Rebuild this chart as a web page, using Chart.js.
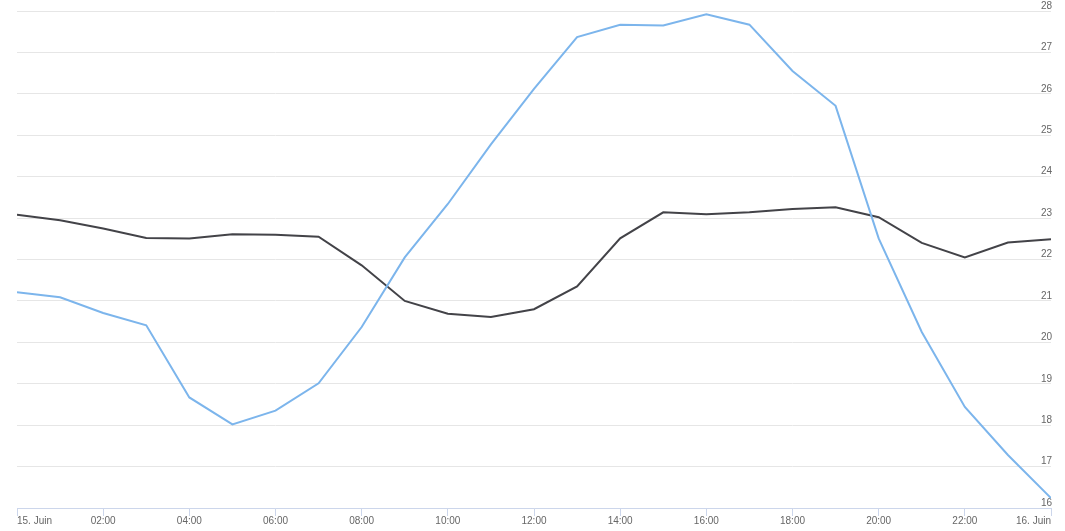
<!DOCTYPE html>
<html>
<head>
<meta charset="utf-8">
<script src="https://cdn.jsdelivr.net/npm/chart.js@4/dist/chart.umd.min.js"></script>
<style>
  html, body { margin: 0; padding: 0; background: #ffffff; }
  #wrap { width: 1065px; height: 531px; position: relative; }
</style>
</head>
<body>
<div id="wrap"><canvas id="tempChart"></canvas></div>
<script>
// hours since 15 June 00:00
const hours = [0, 1, 2, 3, 4, 5, 6, 7, 8, 9, 10, 11, 12, 13, 14, 15, 16, 17, 18, 19, 20, 21, 22, 23, 24];

const blueSeries = [21.21, 21.09, 20.71, 20.41, 18.67, 18.02, 18.35, 19.01, 20.37, 22.05, 23.34, 24.78,
    26.12, 27.37, 27.67, 27.65, 27.92, 27.67, 26.55, 25.71, 22.51, 20.25, 18.44, 17.28, 16.24];

const darkSeries = [23.08, 22.95, 22.75, 22.52, 22.51, 22.61, 22.60, 22.55, 21.86, 21.00, 20.69, 20.61,
    20.80, 21.35, 22.51, 23.14, 23.09, 23.14, 23.22, 23.26, 23.02, 22.40, 22.05, 22.41, 22.49];

const xTickLabels = ["15. Juin", "02:00", "04:00", "06:00", "08:00", "10:00", "12:00",
    "14:00", "16:00", "18:00", "20:00", "22:00", "16. Juin"];

const toPoints = (values) => values.map((v, i) => ({ x: hours[i], y: v }));

const tickFont = { family: "'Liberation Sans', Arial, sans-serif", size: 10 };

new Chart(document.getElementById("tempChart"), {
    type: "line",
    data: {
        datasets: [
            {
                label: "Temp 1",
                data: toPoints(blueSeries),
                borderColor: "#7cb5ec",
                borderWidth: 2,
                pointRadius: 0,
                tension: 0,
                fill: false
            },
            {
                label: "Temp 2",
                data: toPoints(darkSeries),
                borderColor: "#434348",
                borderWidth: 2,
                pointRadius: 0,
                tension: 0,
                fill: false
            }
        ]
    },
    options: {
        responsive: true,
        maintainAspectRatio: false,
        animation: false,
        layout: { padding: { left: 17, right: 12, top: 10, bottom: 5 } },
        plugins: {
            legend: { display: false },
            tooltip: { enabled: false }
        },
        scales: {
            x: {
                type: "linear",
                min: 0,
                max: 24,
                grid: {
                    drawOnChartArea: false,
                    drawTicks: true,
                    tickLength: 8,
                    color: "#ccd6eb"
                },
                border: { color: "#ccd6eb" },
                ticks: {
                    stepSize: 2,
                    autoSkip: false,
                    maxRotation: 0,
                    align: "inner",
                    padding: -1,
                    color: "#666666",
                    font: tickFont,
                    callback: (value) => xTickLabels[value / 2]
                }
            },
            y: {
                position: "right",
                min: 16,
                max: 28,
                grid: {
                    color: "#e6e6e6",
                    drawTicks: false
                },
                border: { display: false },
                ticks: {
                    stepSize: 1,
                    mirror: true,
                    align: "end",
                    padding: 1,
                    color: "#666666",
                    font: { ...tickFont, lineHeight: 1 }
                }
            }
        }
    }
});
</script>
</body>
</html>
